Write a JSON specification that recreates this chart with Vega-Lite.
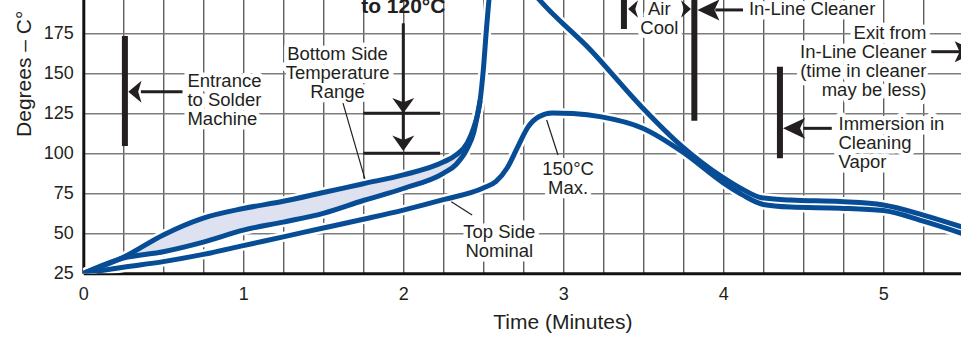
{
  "$schema": "https://vega.github.io/schema/vega-lite/v6.json",
  "width": 878,
  "height": 280,
  "autosize": {"type": "none"},
  "padding": {"left": 83.3, "top": -6.7, "right": 0, "bottom": 68},
  "background": "white",
  "config": {"view": {"stroke": null}, "font": "Liberation Sans"},
  "datasets": {
    "curves": [
      {"series": "top", "t": 0, "v": 25}, {"series": "top", "t": 0.25, "v": 28.8}, {"series": "top", "t": 0.5, "v": 32.3}, {"series": "top", "t": 0.75, "v": 36.8}, {"series": "top", "t": 1.0, "v": 42.3}, {"series": "top", "t": 1.25, "v": 47.8}, {"series": "top", "t": 1.5, "v": 53.3}, {"series": "top", "t": 1.75, "v": 58.8}, {"series": "top", "t": 2.0, "v": 64.5}, {"series": "top", "t": 2.25, "v": 71}, {"series": "top", "t": 2.5, "v": 78.3}, {"series": "top", "t": 2.58, "v": 82.5}, {"series": "top", "t": 2.65, "v": 91}, {"series": "top", "t": 2.72, "v": 105}, {"series": "top", "t": 2.78, "v": 116.5}, {"series": "top", "t": 2.85, "v": 123}, {"series": "top", "t": 2.93, "v": 125.2}, {"series": "top", "t": 3.06, "v": 124.8}, {"series": "top", "t": 3.23, "v": 122.9}, {"series": "top", "t": 3.5, "v": 115.5}, {"series": "top", "t": 3.75, "v": 100.5}, {"series": "top", "t": 4.0, "v": 81.5}, {"series": "top", "t": 4.12, "v": 74}, {"series": "top", "t": 4.25, "v": 68}, {"series": "top", "t": 4.42, "v": 66.4}, {"series": "top", "t": 4.73, "v": 65.7}, {"series": "top", "t": 5.0, "v": 64.2}, {"series": "top", "t": 5.25, "v": 57.6}, {"series": "top", "t": 5.49, "v": 50},
      {"series": "upper", "t": 0, "v": 25}, {"series": "upper", "t": 0.25, "v": 35}, {"series": "upper", "t": 0.5, "v": 49}, {"series": "upper", "t": 0.75, "v": 59.5}, {"series": "upper", "t": 1.0, "v": 65.5}, {"series": "upper", "t": 1.25, "v": 70}, {"series": "upper", "t": 1.5, "v": 75.5}, {"series": "upper", "t": 1.75, "v": 81}, {"series": "upper", "t": 2.0, "v": 86.5}, {"series": "upper", "t": 2.25, "v": 94.5}, {"series": "upper", "t": 2.33, "v": 99}, {"series": "upper", "t": 2.4, "v": 106.5}, {"series": "upper", "t": 2.44, "v": 116}, {"series": "upper", "t": 2.48, "v": 133}, {"series": "upper", "t": 2.5, "v": 152}, {"series": "upper", "t": 2.52, "v": 178}, {"series": "upper", "t": 2.55, "v": 208}, {"series": "upper", "t": 2.62, "v": 224}, {"series": "upper", "t": 2.72, "v": 212}, {"series": "upper", "t": 2.85, "v": 196}, {"series": "upper", "t": 3.17, "v": 164.6}, {"series": "upper", "t": 3.49, "v": 129}, {"series": "upper", "t": 3.74, "v": 104.5}, {"series": "upper", "t": 3.99, "v": 85.4}, {"series": "upper", "t": 4.12, "v": 77.5}, {"series": "upper", "t": 4.24, "v": 72.2}, {"series": "upper", "t": 4.42, "v": 70.8}, {"series": "upper", "t": 4.73, "v": 69.8}, {"series": "upper", "t": 5.0, "v": 67.7}, {"series": "upper", "t": 5.25, "v": 61.4}, {"series": "upper", "t": 5.49, "v": 54},
      {"series": "lower", "t": 0, "v": 25}, {"series": "lower", "t": 0.25, "v": 34.5}, {"series": "lower", "t": 0.5, "v": 38.5}, {"series": "lower", "t": 0.75, "v": 44.5}, {"series": "lower", "t": 1.0, "v": 52}, {"series": "lower", "t": 1.25, "v": 57}, {"series": "lower", "t": 1.5, "v": 62.5}, {"series": "lower", "t": 1.75, "v": 70.5}, {"series": "lower", "t": 2.0, "v": 78}, {"series": "lower", "t": 2.25, "v": 87.5}, {"series": "lower", "t": 2.33, "v": 93}, {"series": "lower", "t": 2.4, "v": 103}, {"series": "lower", "t": 2.44, "v": 113}, {"series": "lower", "t": 2.48, "v": 133}
    ],
    "bars": [
      {"t": 0.26, "v": 104.6, "v2": 173.3},
      {"t": 3.379, "v": 177.7, "v2": 205},
      {"t": 3.819, "v": 120.4, "v2": 205},
      {"t": 4.354, "v": 96.9, "v2": 154.1}
    ],
    "shafts": [
      {"t": 0.36, "v": 138.5, "t2": 0.62, "v2": 138.5},
      {"t": 2.0, "v": 106, "t2": 2.0, "v2": 181.25},
      {"t": 1.75, "v": 125, "t2": 2.23, "v2": 125},
      {"t": 1.75, "v": 100, "t2": 2.23, "v2": 100},
      {"t": 3.95, "v": 189.6, "t2": 4.123, "v2": 189.6},
      {"t": 5.3, "v": 163.5, "t2": 5.48, "v2": 163.5},
      {"t": 4.5, "v": 115.6, "t2": 4.678, "v2": 115.6}
    ],
    "leaders": [
      {"t": 1.623, "v": 131.4, "t2": 1.76, "v2": 84},
      {"t": 2.896, "v": 120.8, "t2": 2.967, "v2": 98.9},
      {"t": 2.3, "v": 69.75, "t2": 2.43, "v2": 61.4}
    ],
    "heads": [
      {"t": 0.3225, "v": 138.5, "dir": "left"},
      {"t": 2.0, "v": 129.8, "dir": "down"},
      {"t": 2.0, "v": 106.25, "dir": "down"},
      {"t": 3.436, "v": 190.2, "dir": "leftsmall"},
      {"t": 3.767, "v": 190.2, "dir": "rightsmall"},
      {"t": 3.907, "v": 189.6, "dir": "leftlong"},
      {"t": 4.442, "v": 115.6, "dir": "leftlong"},
      {"t": 5.515, "v": 163.5, "dir": "rightlong"}
    ],
    "textLeft": [
      {"label": "Entrance\nto Solder\nMachine", "t": 0.651, "v": 141.4},
      {"label": "In-Line Cleaner", "t": 4.16, "v": 186.4},
      {"label": "Immersion in\nCleaning\nVapor", "t": 4.72, "v": 114.6}
    ],
    "textCenter": [
      {"label": "Bottom Side\nTemperature\nRange", "t": 1.589, "v": 158.3},
      {"label": "150°C\nMax.", "t": 3.03, "v": 86.4},
      {"label": "Top Side\nNominal", "t": 2.6, "v": 47.25},
      {"label": "Air\nCool", "t": 3.6, "v": 186.4}
    ],
    "textRight": [
      {"label": "Exit from\nIn-Line Cleaner\n(time in cleaner\nmay be less)", "t": 5.27, "v": 171.25}
    ],
    "textBold": [
      {"label": "to 120°C", "t": 2.0, "v": 187.9}
    ]
  },
  "encoding": {
    "x": {
      "field": "t", "type": "quantitative", "title": "Time (Minutes)",
      "scale": {"domain": [0, 5.4875], "nice": false, "zero": false},
      "axis": {
        "values": [0, 0.25, 0.5, 0.75, 1, 1.25, 1.5, 1.75, 2, 2.25, 2.5, 2.75, 3, 3.25, 3.5, 3.75, 4, 4.25, 4.5, 4.75, 5, 5.25],
        "labelExpr": "datum.value % 1 === 0 ? format(datum.value, 'd') : ''",
        "grid": true, "gridColor": "#1e1e1e", "gridWidth": 1, "gridOpacity": 1,
        "ticks": false, "tickSize": 0, "labelPadding": 12, "labelFontSize": 18, "labelColor": "#231f20",
        "labelFlush": false, "labelOverlap": false,
        "domainColor": "#111111", "domainWidth": 3,
        "titleFontSize": 21, "titleFontWeight": "normal", "titleColor": "#231f20",
        "titleX": 479, "titleY": 55, "titleBaseline": "alphabetic", "titleAlign": "center"
      }
    },
    "y": {
      "field": "v", "type": "quantitative", "title": "Degrees – C°",
      "scale": {"domain": [25, 200], "nice": false, "zero": false},
      "axis": {
        "values": [25, 50, 75, 100, 125, 150, 175, 200],
        "grid": true, "gridColor": "#7d7d7d", "gridWidth": 1.5, "gridOpacity": 1,
        "ticks": false, "tickSize": 0, "labelPadding": 10, "labelFontSize": 18, "labelColor": "#231f20",
        "labelFlush": false, "labelOverlap": false,
        "domainColor": "#111111", "domainWidth": 3,
        "titleFontSize": 21, "titleFontWeight": "normal", "titleColor": "#231f20",
        "titleX": -53.3, "titleY": 80, "titleAngle": -90, "titleBaseline": "alphabetic", "titleAlign": "center"
      }
    }
  },
  "layer": [
    {
      "data": {"name": "curves"},
      "mark": {"type": "line", "interpolate": "monotone", "stroke": "white", "strokeWidth": 10, "clip": true},
      "encoding": {"detail": {"field": "series"}}
    },
    {
      "data": {"name": "curves"},
      "transform": [
        {"pivot": "series", "value": "v", "groupby": ["t"]},
        {"filter": "isValid(datum.lower) && isValid(datum.upper)"}
      ],
      "mark": {"type": "area", "interpolate": "monotone", "color": "#dde1f0", "opacity": 1, "clip": true},
      "encoding": {
        "y": {"field": "lower", "type": "quantitative", "title": "Degrees – C°"},
        "y2": {"field": "upper"}
      }
    },
    {
      "data": {"name": "curves"},
      "mark": {"type": "line", "interpolate": "monotone", "stroke": "#074d96", "strokeWidth": 5, "clip": true},
      "encoding": {"detail": {"field": "series"}}
    },
    {
      "data": {"name": "textLeft"},
      "mark": {"type": "text", "align": "left", "baseline": "alphabetic", "fontSize": 18.5, "lineHeight": 19, "lineBreak": "\n", "color": "white", "stroke": "white", "strokeWidth": 9, "strokeJoin": "round"},
      "encoding": {"text": {"field": "label"}}
    },
    {
      "data": {"name": "textCenter"},
      "mark": {"type": "text", "align": "center", "baseline": "alphabetic", "fontSize": 18.5, "lineHeight": 19, "lineBreak": "\n", "color": "white", "stroke": "white", "strokeWidth": 9, "strokeJoin": "round"},
      "encoding": {"text": {"field": "label"}}
    },
    {
      "data": {"name": "textRight"},
      "mark": {"type": "text", "align": "right", "baseline": "alphabetic", "fontSize": 18.5, "lineHeight": 19, "lineBreak": "\n", "color": "white", "stroke": "white", "strokeWidth": 9, "strokeJoin": "round"},
      "encoding": {"text": {"field": "label"}}
    },
    {
      "data": {"name": "bars"},
      "mark": {"type": "rule", "color": "#231f20", "strokeWidth": 6, "clip": true},
      "encoding": {"y2": {"field": "v2"}}
    },
    {
      "data": {"name": "shafts"},
      "mark": {"type": "rule", "color": "#231f20", "strokeWidth": 3},
      "encoding": {"x2": {"field": "t2"}, "y2": {"field": "v2"}}
    },
    {
      "data": {"name": "leaders"},
      "mark": {"type": "rule", "color": "#231f20", "strokeWidth": 1.2},
      "encoding": {"x2": {"field": "t2"}, "y2": {"field": "v2"}}
    },
    {
      "data": {"name": "heads"},
      "mark": {"type": "point", "filled": true, "color": "#231f20", "opacity": 1, "size": 484, "strokeWidth": 0},
      "encoding": {
        "shape": {
          "field": "dir", "type": "nominal", "legend": null,
          "scale": {
            "domain": ["left", "down", "leftsmall", "rightsmall", "leftlong", "rightlong"],
            "range": [
              "M-0.6,0 L0.6,-1 L0.3,0 L0.6,1 Z",
              "M0,0.7 L-1,-0.7 L0,-0.3 L1,-0.7 Z",
              "M-0.45,0 L0.45,-0.8 L0.2,0 L0.45,0.8 Z",
              "M0.45,0 L-0.45,-0.8 L-0.2,0 L-0.45,0.8 Z",
              "M-1,0 L1,-0.95 L0.55,0 L1,0.95 Z",
              "M1,0 L-1,-0.95 L-0.55,0 L-1,0.95 Z"
            ]
          }
        }
      }
    },
    {
      "data": {"name": "textLeft"},
      "mark": {"type": "text", "align": "left", "baseline": "alphabetic", "fontSize": 18.5, "lineHeight": 19, "lineBreak": "\n", "color": "#231f20"},
      "encoding": {"text": {"field": "label"}}
    },
    {
      "data": {"name": "textCenter"},
      "mark": {"type": "text", "align": "center", "baseline": "alphabetic", "fontSize": 18.5, "lineHeight": 19, "lineBreak": "\n", "color": "#231f20"},
      "encoding": {"text": {"field": "label"}}
    },
    {
      "data": {"name": "textRight"},
      "mark": {"type": "text", "align": "right", "baseline": "alphabetic", "fontSize": 18.5, "lineHeight": 19, "lineBreak": "\n", "color": "#231f20"},
      "encoding": {"text": {"field": "label"}}
    },
    {
      "data": {"name": "textBold"},
      "mark": {"type": "text", "align": "center", "baseline": "alphabetic", "fontSize": 21, "fontWeight": "bold", "color": "#231f20"},
      "encoding": {"text": {"field": "label"}}
    }
  ]
}
